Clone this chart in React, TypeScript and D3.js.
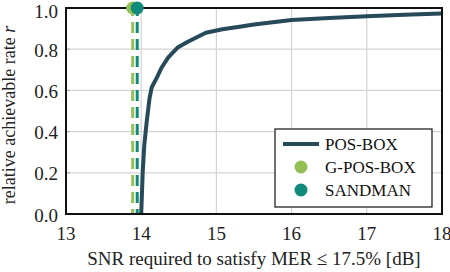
import React, { useEffect, useRef } from 'react';
import * as d3 from 'd3';

// POS-BOX curve
const posBoxSnr = [14.0, 14.02, 14.04, 14.075, 14.11, 14.14, 14.21, 14.27, 14.36, 14.49, 14.62, 14.86, 15.08, 15.33, 15.5, 16.0, 16.5, 17.0, 17.5, 18.0];
const posBoxRate = [0.0, 0.2, 0.33, 0.454, 0.56, 0.615, 0.663, 0.71, 0.76, 0.81, 0.836, 0.88, 0.897, 0.91, 0.92, 0.942, 0.952, 0.96, 0.967, 0.973];

const pointNames = ['G-POS-BOX', 'SANDMAN'];
const pointSnr = [13.887, 13.947];
const pointRate = [1.0, 1.0];
const pointColors = ['#93bf55', '#108a7a'];

const xTicks = [13, 14, 15, 16, 17, 18];
const yTicks = [0, 0.2, 0.4, 0.6, 0.8, 1.0];

const lineColor = '#264a5a';

const App = () => {
  const svgRef = useRef<SVGSVGElement>(null);

  useEffect(() => {
    const W = 450, H = 272;
    const margin = { top: 8, right: 8, bottom: 58, left: 66 };
    const width = W - margin.left - margin.right;
    const height = H - margin.top - margin.bottom;

    const root = d3.select(svgRef.current);
    root.selectAll('*').remove();
    const svg = root.append('g').attr('transform', `translate(${margin.left},${margin.top})`)
      .style('font-family', "'Liberation Serif', 'DejaVu Serif', serif");

    const x = d3.scaleLinear().domain([13, 18]).range([0, width]);
    const y = d3.scaleLinear().domain([0, 1]).range([height, 0]);

    // grid
    svg.selectAll('.gx').data(xTicks.slice(1, -1)).enter().append('line')
      .attr('x1', d => x(d)).attr('x2', d => x(d)).attr('y1', 0).attr('y2', height)
      .attr('stroke', '#d4d4d4').attr('stroke-width', 1.2);
    svg.selectAll('.gy').data(yTicks.slice(1, -1)).enter().append('line')
      .attr('x1', 0).attr('x2', width).attr('y1', d => y(d)).attr('y2', d => y(d))
      .attr('stroke', '#d4d4d4').attr('stroke-width', 1.2);

    // inward ticks
    svg.selectAll('.ty').data(yTicks).enter().append('line')
      .attr('x1', 0).attr('x2', 4).attr('y1', d => y(d)).attr('y2', d => y(d))
      .attr('stroke', '#aaaaaa').attr('stroke-width', 1);

    // tick labels
    svg.selectAll('.lx').data(xTicks).enter().append('text')
      .attr('x', d => x(d)).attr('y', height + 26)
      .attr('text-anchor', 'middle').style('font-size', '19px')
      .attr('fill', '#222').text(d => d3.format('d')(d));
    svg.selectAll('.ly').data(yTicks).enter().append('text')
      .attr('x', -8).attr('y', d => Math.max(y(d) + 1, 3)).attr('dy', '0.35em')
      .attr('text-anchor', 'end').style('font-size', '19px')
      .attr('fill', '#222').text(d => d3.format('.1f')(d));

    // axis titles
    const xt = svg.append('text').attr('x', width / 2).attr('y', height + 51)
      .attr('text-anchor', 'middle').style('font-size', '19px').attr('fill', '#222');
    xt.text('SNR required to satisfy MER ≤ 17.5% [dB]');
    const yt = svg.append('text')
      .attr('transform', `translate(${-51},${height / 2 + 4}) rotate(-90)`)
      .attr('text-anchor', 'middle').style('font-size', '18px').attr('fill', '#222');
    yt.append('tspan').text('relative achievable rate ');
    yt.append('tspan').attr('font-style', 'italic').text('r');

    // dashed lines for the points
    svg.selectAll('.dl').data(pointSnr).enter().append('line')
      .attr('x1', d => x(d)).attr('x2', d => x(d)).attr('y1', height).attr('y2', 0)
      .attr('stroke', (d, i) => pointColors[i]).attr('stroke-width', 3)
      .attr('stroke-dasharray', '11,6').attr('stroke-dashoffset', 6);

    // POS-BOX
    const line = d3.line<number>().x((d, i) => x(posBoxSnr[i])).y(d => y(d));
    svg.append('path').datum(posBoxRate).attr('d', line)
      .attr('fill', 'none').attr('stroke', lineColor).attr('stroke-width', 4).attr('stroke-linejoin', 'round');

    // frame
    svg.append('rect').attr('width', width).attr('height', height)
      .attr('fill', 'none').attr('stroke', '#111').attr('stroke-width', 2);

    // points
    svg.selectAll('.pt').data(pointSnr).enter().append('circle')
      .attr('cx', d => x(d)).attr('cy', (d, i) => y(pointRate[i])).attr('r', 6.5)
      .attr('fill', (d, i) => pointColors[i]);

    // legend
    const lg = svg.append('g').attr('transform', `translate(${x(13) + 209},${121})`);
    lg.append('rect').attr('width', 157).attr('height', 78)
      .attr('fill', 'white').attr('stroke', '#111').attr('stroke-width', 1.2);
    const rows = ['POS-BOX', ...pointNames];
    rows.forEach((name, i) => {
      const cy = 15 + i * 23;
      if (i === 0) {
        lg.append('line').attr('x1', 8).attr('x2', 44).attr('y1', cy).attr('y2', cy)
          .attr('stroke', lineColor).attr('stroke-width', 4);
      } else {
        lg.append('circle').attr('cx', 26).attr('cy', cy).attr('r', 6.5).attr('fill', pointColors[i - 1]);
      }
      lg.append('text').attr('x', 50).attr('y', cy).attr('dy', '0.35em')
        .style('font-size', '17px').attr('fill', '#111').text(name);
    });
  }, []);

  return <svg ref={svgRef} width={450} height={272} style={{ position: 'absolute', left: 0, top: 0 }} />;
};

export default App;
